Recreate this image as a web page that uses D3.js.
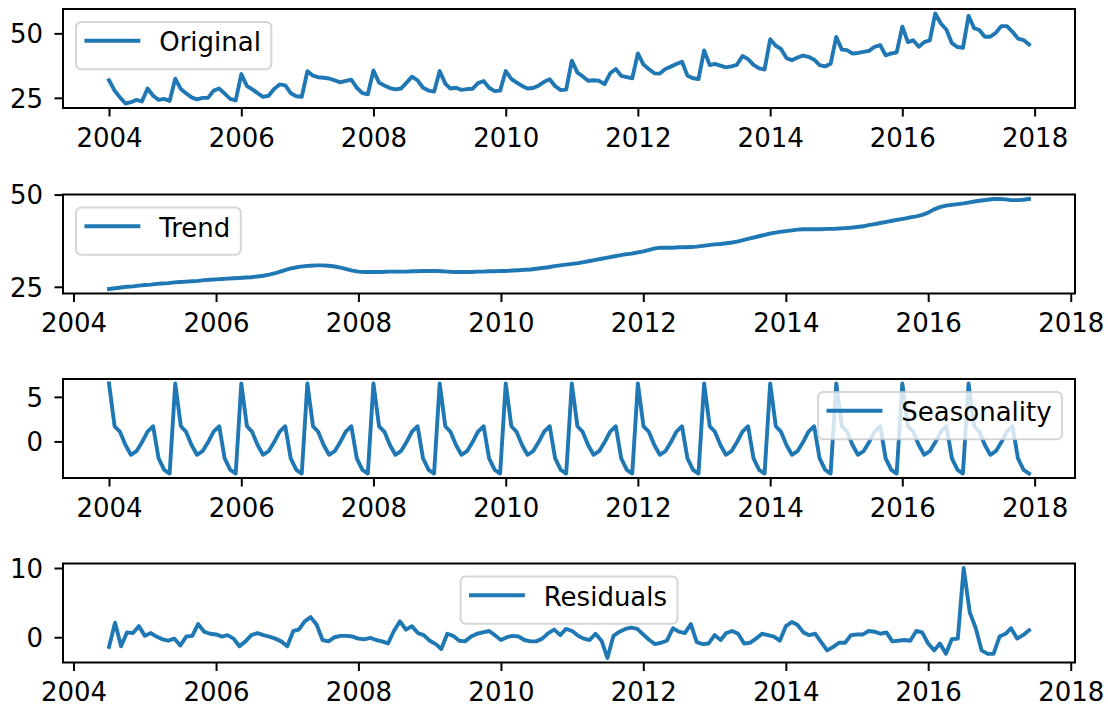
<!DOCTYPE html>
<html>
<head>
<meta charset="utf-8">
<script src="https://cdn.jsdelivr.net/npm/d3@7"></script>
<style>
  body { margin: 0; background: #fff; }
  svg { display: block; }
</style>
</head>
<body>
<svg id="chart" width="1108" height="706"></svg>
<script>
// Monthly series, additive decomposition (period 12).
// Observed values, Jan 2004 .. Dec 2017
const originalValues = [
  31.8, 27.8, 25.2, 22.8, 23.3, 24.2, 23.6, 28.6, 25.8, 24.2, 24.6, 23.8,
  32.4, 28.4, 26.8, 25.2, 24.4, 25.0, 25.0, 27.8, 28.6, 26.6, 24.6, 24.0,
  34.2, 29.6, 28.4, 26.8, 25.4, 25.8, 28.4, 30.2, 29.8, 26.8, 25.6, 25.4,
  35.3, 33.6, 33.0, 32.8, 32.5, 31.8, 31.0, 31.6, 32.0, 28.9, 26.8, 26.4,
  35.6, 30.9, 29.8, 28.8, 28.3, 28.6, 30.8, 33.2, 31.8, 28.9, 27.8, 27.4,
  35.4, 30.5, 28.6, 28.9, 28.1, 28.4, 28.5, 30.7, 31.5, 28.9, 27.6, 27.8,
  35.4, 32.3, 31.0, 29.6, 28.6, 28.8, 29.7, 31.2, 32.2, 29.5, 28.0, 28.2,
  39.4, 34.8, 33.4, 31.6, 31.8, 31.6, 30.3, 34.5, 36.2, 33.5, 33.0, 32.6,
  42.2, 37.9, 36.2, 34.5, 34.4, 36.2, 37.1, 38.1, 39.0, 33.6, 32.6, 32.3,
  43.4, 37.7, 38.2, 37.5, 36.8, 37.2, 37.8, 41.2, 40.0, 37.8, 36.4, 36.0,
  47.7, 45.2, 44.0, 40.4, 39.6, 40.6, 41.4, 40.9, 39.8, 37.7, 37.2, 38.2,
  48.6, 43.7, 43.5, 42.2, 42.4, 42.8, 43.2, 44.8, 45.4, 41.5, 42.2, 42.6,
  52.6, 46.6, 47.3, 44.8, 46.6, 47.3, 57.7, 53.8, 51.4, 46.2, 44.7, 44.4,
  56.8, 52.0, 51.3, 48.7, 48.7, 50.2, 52.8, 52.8, 50.6, 48.0, 47.4, 45.7
];

// Centred moving-average trend, Jul 2004 .. Jun 2017
const trendValues = [
                                    24.4, 24.6, 24.8, 25.0, 25.1, 25.3,
  25.5, 25.6, 25.8, 25.9, 26.0, 26.2, 26.3, 26.4, 26.5, 26.6, 26.8, 26.9,
  27.0, 27.1, 27.2, 27.3, 27.4, 27.5, 27.6, 27.8, 28.0, 28.3, 28.7, 29.2,
  29.7, 30.1, 30.4, 30.6, 30.7, 30.8, 30.8, 30.7, 30.5, 30.2, 29.8, 29.4,
  29.1, 29.0, 29.0, 29.0, 29.0, 29.1, 29.1, 29.1, 29.1, 29.2, 29.2, 29.3,
  29.3, 29.3, 29.2, 29.1, 29.0, 29.0, 29.0, 29.0, 29.1, 29.1, 29.2, 29.2,
  29.3, 29.3, 29.4, 29.5, 29.6, 29.7, 29.9, 30.1, 30.3, 30.6, 30.8, 31.0,
  31.2, 31.4, 31.7, 32.0, 32.3, 32.6, 32.9, 33.2, 33.5, 33.8, 34.0, 34.3,
  34.6, 35.0, 35.4, 35.6, 35.6, 35.6, 35.7, 35.7, 35.8, 35.9, 36.1, 36.3,
  36.5, 36.6, 36.8, 37.0, 37.3, 37.7, 38.1, 38.5, 38.9, 39.3, 39.6, 39.9,
  40.1, 40.3, 40.5, 40.6, 40.6, 40.6, 40.6, 40.7, 40.7, 40.8, 40.9, 41.0,
  41.2, 41.4, 41.7, 42.0, 42.3, 42.6, 42.9, 43.2, 43.5, 43.8, 44.1, 44.5,
  45.1, 46.0, 46.6, 47.0, 47.2, 47.4, 47.6, 47.9, 48.2, 48.4, 48.6, 48.8,
  48.8, 48.7, 48.5, 48.5, 48.6, 48.8
];

// Seasonal component, Jan 2004 .. Dec 2017
const seasonalValues = [
  6.5, 1.7, 1.1, -0.4, -1.5, -1.1, -0.1, 1.1, 1.7, -1.9, -3.2, -3.6,
  6.5, 1.7, 1.1, -0.4, -1.5, -1.1, -0.1, 1.1, 1.7, -1.9, -3.2, -3.6,
  6.5, 1.7, 1.1, -0.4, -1.5, -1.1, -0.1, 1.1, 1.7, -1.9, -3.2, -3.6,
  6.5, 1.7, 1.1, -0.4, -1.5, -1.1, -0.1, 1.1, 1.7, -1.9, -3.2, -3.6,
  6.5, 1.7, 1.1, -0.4, -1.5, -1.1, -0.1, 1.1, 1.7, -1.9, -3.2, -3.6,
  6.5, 1.7, 1.1, -0.4, -1.5, -1.1, -0.1, 1.1, 1.7, -1.9, -3.2, -3.6,
  6.5, 1.7, 1.1, -0.4, -1.5, -1.1, -0.1, 1.1, 1.7, -1.9, -3.2, -3.6,
  6.5, 1.7, 1.1, -0.4, -1.5, -1.1, -0.1, 1.1, 1.7, -1.9, -3.2, -3.6,
  6.5, 1.7, 1.1, -0.4, -1.5, -1.1, -0.1, 1.1, 1.7, -1.9, -3.2, -3.6,
  6.5, 1.7, 1.1, -0.4, -1.5, -1.1, -0.1, 1.1, 1.7, -1.9, -3.2, -3.6,
  6.5, 1.7, 1.1, -0.4, -1.5, -1.1, -0.1, 1.1, 1.7, -1.9, -3.2, -3.6,
  6.5, 1.7, 1.1, -0.4, -1.5, -1.1, -0.1, 1.1, 1.7, -1.9, -3.2, -3.6,
  6.5, 1.7, 1.1, -0.4, -1.5, -1.1, -0.1, 1.1, 1.7, -1.9, -3.2, -3.6,
  6.5, 1.7, 1.1, -0.4, -1.5, -1.1, -0.1, 1.1, 1.7, -1.9, -3.2, -3.6
];

// Residuals, Jul 2004 .. Jun 2017
const residualValues = [
                                    -1.4, 2.1, -1.3, 0.7, 0.6, 1.6,
  0.2, 0.6, 0.1, -0.3, -0.5, -0.2, -1.2, 0.1, 0.2, 1.9, 0.8, 0.5,
  0.4, 0.1, 0.3, -0.2, -1.3, -0.6, 0.3, 0.6, 0.3, 0.1, -0.2, -0.6,
  -1.3, 0.9, 1.1, 2.3, 2.9, 1.8, -0.4, -0.6, 0.0, 0.2, 0.2, 0.1,
  -0.2, -0.3, -0.1, -0.4, -0.6, -0.9, 0.9, 2.3, 1.1, 1.6, 0.6, 0.3,
  -0.5, -1.0, -1.7, 0.5, 0.2, -0.5, -0.6, 0.1, 0.5, 0.7, 0.9, 0.3,
  -0.4, 0.0, 0.2, 0.1, -0.4, -0.6, -0.6, -0.2, 0.6, 1.1, 0.3, 1.2,
  0.9, 0.2, -0.2, -0.4, 0.5, -0.5, -3.0, 0.2, 0.8, 1.2, 1.4, 1.2,
  0.4, -0.4, -1.0, -0.8, -0.5, 1.3, 0.8, 0.6, 1.9, -0.7, -1.0, -0.9,
  0.3, -0.4, 0.6, 0.9, 0.5, -0.9, -0.8, -0.2, 0.5, 0.3, 0.1, -0.5,
  1.6, 2.2, 1.8, 0.7, 0.3, 0.5, -0.7, -1.9, -1.4, -0.8, -0.8, 0.3,
  0.4, 0.4, 0.9, 0.8, 0.5, 0.7, -0.6, -0.5, -0.4, -0.5, 0.9, 0.7,
  -0.9, -1.9, -0.9, -2.4, -0.3, -0.2, 10.0, 3.6, 1.3, -1.9, -2.4, -2.4,
  0.1, 0.5, 1.3, -0.2, 0.3, 1.0
];

const seriesNames = ["Original", "Trend", "Seasonality", "Residuals"];
const fullStart = [2004, 0];     // first observed month (year, month index)
const trimmedStart = [2004, 6];  // first month with a defined trend
const xTickYears = [2004, 2006, 2008, 2010, 2012, 2014, 2016, 2018];
const originalTicks = [25, 50];
const trendTicks = [25, 50];
const seasonalTicks = [0, 5];
const residualTicks = [0, 10];

// ---- layout ----
const svg = d3.select("#chart");
const plotLeft = 63, plotRight = 1075, plotHeight = 99;
const panelTops = [9, 194.5, 379, 563.5];
const FONT = 26;
const FONT_FAMILY = "'DejaVu Sans', sans-serif";
const LINE_COLOR = "#1f77b4";
const LINE_WIDTH = 3.9;
const TICK_LEN = 8.5;

const panels = [
  { label: seriesNames[0], values: originalValues, start: fullStart,    ticks: originalTicks, legend: "upper left" },
  { label: seriesNames[1], values: trendValues,    start: trimmedStart, ticks: trendTicks,    legend: "upper left" },
  { label: seriesNames[2], values: seasonalValues, start: fullStart,    ticks: seasonalTicks, legend: "upper right" },
  { label: seriesNames[3], values: residualValues, start: trimmedStart, ticks: residualTicks, legend: "upper center" }
];

function monthlyDates(start, n) {
  return d3.range(n).map(i => new Date(Date.UTC(start[0], start[1] + i, 1)));
}

// data extent widened by 5% on each side
function padExtent(vals) {
  const [a, b] = d3.extent(vals, v => +v);
  const p = (b - a) * 0.05;
  return [a - p, b + p];
}

svg.append("rect").attr("width", 1108).attr("height", 706).attr("fill", "#fff");
const defs = svg.append("defs");

panels.forEach((p, k) => {
  const top = panelTops[k];
  const bottom = top + plotHeight;
  const dates = monthlyDates(p.start, p.values.length);

  const x = d3.scaleUtc()
    .domain(padExtent(dates).map(t => new Date(t)))
    .range([plotLeft, plotRight]);
  const y = d3.scaleLinear()
    .domain(padExtent(p.values))
    .range([bottom, top]);

  const g = svg.append("g");

  const clipId = "plot-clip-" + k;
  defs.append("clipPath").attr("id", clipId)
    .append("rect")
    .attr("x", plotLeft).attr("y", top)
    .attr("width", plotRight - plotLeft).attr("height", plotHeight);

  const line = d3.line()
    .x((d, i) => x(dates[i]))
    .y(d => y(d));

  g.append("path")
    .datum(p.values)
    .attr("clip-path", `url(#${clipId})`)
    .attr("fill", "none")
    .attr("stroke", LINE_COLOR)
    .attr("stroke-width", LINE_WIDTH)
    .attr("stroke-linejoin", "round")
    .attr("stroke-linecap", "square")
    .attr("d", line);

  // x axis
  const xAxis = d3.axisBottom(x)
    .tickValues(xTickYears.map(yr => new Date(Date.UTC(yr, 0, 1))))
    .tickFormat(d3.utcFormat("%Y"))
    .tickSize(TICK_LEN)
    .tickPadding(12);
  const gx = g.append("g")
    .attr("transform", `translate(0,${bottom})`)
    .call(xAxis)
    .attr("font-size", FONT)
    .attr("font-family", FONT_FAMILY);
  gx.select(".domain").remove();
  gx.selectAll(".tick line").attr("stroke", "#000").attr("stroke-width", 2);
  gx.selectAll(".tick text").attr("fill", "#000");

  // y axis
  const yAxis = d3.axisLeft(y)
    .tickValues(p.ticks)
    .tickFormat(d3.format("d"))
    .tickSize(TICK_LEN)
    .tickPadding(11.5);
  const gy = g.append("g")
    .attr("transform", `translate(${plotLeft},0)`)
    .call(yAxis)
    .attr("font-size", FONT)
    .attr("font-family", FONT_FAMILY);
  gy.select(".domain").remove();
  gy.selectAll(".tick line").attr("stroke", "#000").attr("stroke-width", 2);
  gy.selectAll(".tick text").attr("fill", "#000").attr("dy", "0.36em");

  // frame
  g.append("rect")
    .attr("x", plotLeft).attr("y", top)
    .attr("width", plotRight - plotLeft).attr("height", plotHeight)
    .attr("fill", "none")
    .attr("stroke", "#000")
    .attr("stroke-width", 2);

  drawLegend(g, p.label, p.legend, top);
});

function drawLegend(g, label, loc, top) {
  const lg = g.append("g");
  const txt = lg.append("text")
    .text(label)
    .attr("font-size", FONT)
    .attr("font-family", FONT_FAMILY)
    .attr("fill", "#000");
  const tw = txt.node().getComputedTextLength();
  const w = FONT * 3.6 + tw;
  const h = FONT * 1.82;
  let bx;
  if (loc === "upper left") bx = plotLeft + 0.5 * FONT;
  else if (loc === "upper right") bx = plotRight - 0.5 * FONT - w;
  else bx = (plotLeft + plotRight) / 2 - w / 2;
  const by = top + 0.5 * FONT;

  lg.insert("rect", "text")
    .attr("x", bx).attr("y", by)
    .attr("width", w).attr("height", h)
    .attr("rx", 0.2 * FONT).attr("ry", 0.2 * FONT)
    .attr("fill", "#fff").attr("fill-opacity", 0.8)
    .attr("stroke", "#ccc").attr("stroke-opacity", 0.8)
    .attr("stroke-width", 2);
  lg.insert("line", "text")
    .attr("x1", bx + 0.4 * FONT).attr("x2", bx + 2.4 * FONT)
    .attr("y1", by + 0.72 * FONT).attr("y2", by + 0.72 * FONT)
    .attr("stroke", LINE_COLOR)
    .attr("stroke-width", LINE_WIDTH)
    .attr("stroke-linecap", "square");
  txt.attr("x", bx + 3.2 * FONT).attr("y", by + 1.12 * FONT);
}
</script>
</body>
</html>
